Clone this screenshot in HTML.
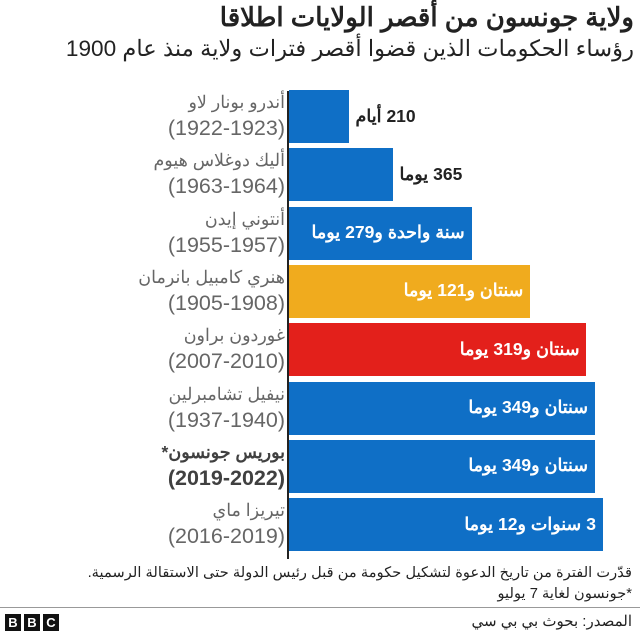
<!DOCTYPE html>
<html><head><meta charset="utf-8">
<style>
body{margin:0;background:#fff;width:640px;height:637px;overflow:hidden;position:relative;font-family:"Liberation Sans","Noto Sans CJK SC",sans-serif;}
.abs{position:absolute;}
#title{right:6px;top:2px;font-size:26px;font-weight:bold;color:#222;direction:rtl;white-space:nowrap;}
#subtitle{right:6px;top:36px;font-size:22.6px;color:#222;direction:rtl;white-space:nowrap;}
.name{position:absolute;right:355px;width:280px;text-align:right;font-size:17.5px;line-height:26px;color:#666;direction:rtl;}
.name .yr{font-size:21.5px;}
.name.bold{font-weight:bold;color:#404040;}
.bar{position:absolute;left:289px;}
.val{position:absolute;font-size:17.5px;font-weight:bold;display:flex;gap:5px;white-space:nowrap;direction:ltr;}
.note{right:8px;font-size:14.7px;color:#222;direction:rtl;white-space:nowrap;}
</style></head><body>
<div id="title" class="abs">ولاية جونسون من أقصر الولايات اطلاقا</div>
<div id="subtitle" class="abs">رؤساء الحكومات الذين قضوا أقصر فترات ولاية منذ عام 1900</div>
<div id="chart"></div>
<div class="abs" style="left:287px;top:91px;width:2px;height:468px;background:#222"></div>
<div class="abs note" style="top:564px">قدّرت الفترة من تاريخ الدعوة لتشكيل حكومة من قبل رئيس الدولة حتى الاستقالة الرسمية.</div>
<div class="abs note" style="top:585px">*جونسون لغاية 7 يوليو</div>
<div class="abs" style="left:0;top:607px;width:640px;height:1px;background:#999"></div>
<div class="abs" style="left:5px;top:614px;display:flex;gap:3px">
<span style="width:16px;height:17px;background:#111;color:#fff;font-weight:bold;font-size:13px;text-align:center;line-height:17px">B</span>
<span style="width:16px;height:17px;background:#111;color:#fff;font-weight:bold;font-size:13px;text-align:center;line-height:17px">B</span>
<span style="width:16px;height:17px;background:#111;color:#fff;font-weight:bold;font-size:13px;text-align:center;line-height:17px">C</span></div>
<div class="abs note" style="top:612px;font-size:15px">المصدر: بحوث بي بي سي</div>
<script>
const names=["أندرو بونار لاو","أليك دوغلاس هيوم","أنتوني إيدن","هنري كامبيل بانرمان","غوردون براون","نيفيل تشامبرلين","بوريس جونسون*","تيريزا ماي"];
const years=["(1922-1923)","(1963-1964)","(1955-1957)","(1905-1908)","(2007-2010)","(1937-1940)","(2019-2022)","(2016-2019)"];
const days=[210,365,644,851,1049,1079,1079,1107];
const valueLabels=[["أيام","210"],["يوما","365"],["يوما","و279","واحدة","سنة"],["يوما","و121","سنتان"],["يوما","و319","سنتان"],["يوما","و349","سنتان"],["يوما","و349","سنتان"],["يوما","و12","سنوات","3"]];
const colors=["#0f6fc6","#0f6fc6","#0f6fc6","#f0ab1e","#e3201b","#0f6fc6","#0f6fc6","#0f6fc6"];
const x0=289,scale=0.2836,top0=90,pitch=58.3,bh=53;
const xs=d=>d*scale;
const c=document.getElementById('chart');
days.forEach((d,i)=>{
  const y=top0+i*pitch,w=xs(d);
  const b=document.createElement('div');b.className='bar';
  
  
  b.style.cssText=`top:${y}px;width:${w}px;height:${bh}px;background:${colors[i]}`;
  c.appendChild(b);
  const n=document.createElement('div');n.className='name'+(i==6?' bold':'');
  
  
  n.style.top=(y-1)+'px';
  n.innerHTML=names[i]+'<br><span class="yr">'+years[i]+'</span>';
  c.appendChild(n);
  const v=document.createElement('div');v.className='val';
  
  
  valueLabels[i].forEach(t=>{const s=document.createElement('span');s.textContent=t;v.appendChild(s);});
  v.style.top=(y+bh/2-11)+'px';
  if(d<500){v.style.left=(x0+w+7)+'px';v.style.color='#222';}
  else{v.style.right=(640-(x0+w)+7)+'px';v.style.color='#fff';}
  c.appendChild(v);
});
</script>
</body></html>
